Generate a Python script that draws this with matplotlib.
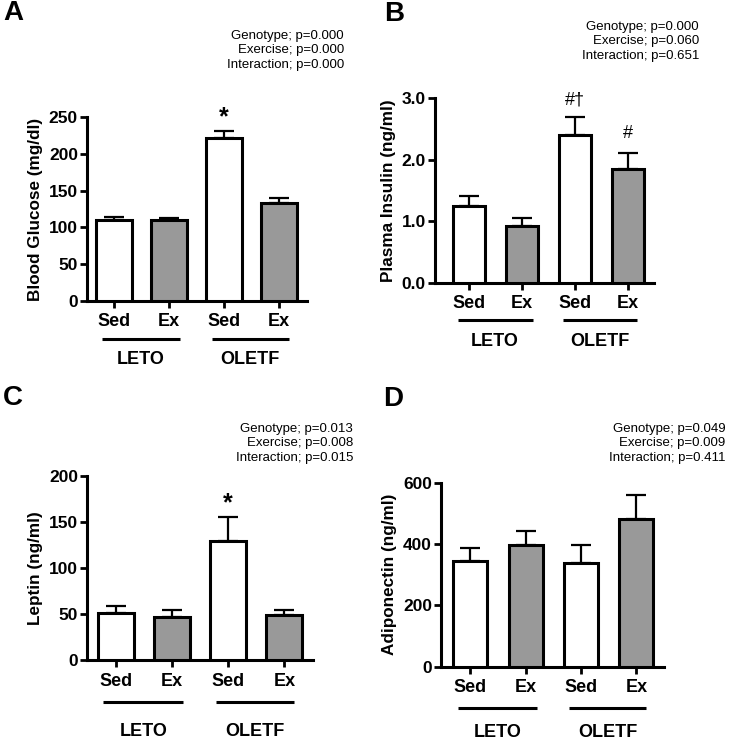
import numpy as np
import matplotlib
matplotlib.use('Agg')
import matplotlib.pyplot as plt
import matplotlib.transforms as mtransforms

plt.rcParams['font.family'] = ['Liberation Sans', 'DejaVu Sans']

W, H = 729, 742

groups = ['Sed', 'Ex', 'Sed', 'Ex']
strains = ['LETO', 'OLETF']
fills = ['white', '#999999', 'white', '#999999']

glucose = [110, 109.5, 221, 132.5]
glucose_err = [4.5, 3.5, 10, 7]

insulin = [1.25, 0.92, 2.40, 1.85]
insulin_err = [0.16, 0.13, 0.29, 0.26]

leptin = [51.5, 47.5, 130, 49]
leptin_err = [7, 7, 25, 5.5]

adipo = [345, 398, 337, 481]
adipo_err = [43, 44, 60, 79]

stats_a = ['Genotype; p=0.000', 'Exercise; p=0.000', 'Interaction; p=0.000']
stats_b = ['Genotype; p=0.000', 'Exercise; p=0.060', 'Interaction; p=0.651']
stats_c = ['Genotype; p=0.013', 'Exercise; p=0.008', 'Interaction; p=0.015']
stats_d = ['Genotype; p=0.049', 'Exercise; p=0.009', 'Interaction; p=0.411']

fig = plt.figure(figsize=(W / 100, H / 100), dpi=100)


def px_axes(left, right, top, bottom):
    return fig.add_axes([left / W, (H - bottom) / H, (right - left) / W, (bottom - top) / H])


def draw_panel(ax, vals, errs, ylim, ticks, ticklabels, ylabel, xlim, width,
               line_dy, grp_dy):
    x = np.arange(4)
    ax.bar(x, vals, width=width, color=fills, edgecolor='black', linewidth=2.2, zorder=3)
    ax.errorbar(x, vals, yerr=[np.zeros(4), errs], fmt='none', ecolor='black',
                elinewidth=1.6, capsize=7.5, capthick=1.6, zorder=2)
    ax.set_xlim(*xlim)
    ax.set_ylim(*ylim)
    ax.set_yticks(ticks)
    ax.set_yticklabels(ticklabels, fontsize=12.5, fontweight='bold')
    ax.set_xticks(x)
    ax.set_xticklabels(groups, fontsize=13, fontweight='bold')
    ax.set_ylabel(ylabel, fontsize=12.3, fontweight='bold', labelpad=4)
    for s in ['top', 'right']:
        ax.spines[s].set_visible(False)
    for s in ['left', 'bottom']:
        ax.spines[s].set_linewidth(2.2)
    ax.tick_params(axis='both', width=2, length=5, pad=1.5)
    ax.tick_params(axis='x', pad=4)
    # group lines and labels below the axis
    trans = mtransforms.blended_transform_factory(ax.transData, ax.transAxes)
    h = ax.get_position().height * H
    for lo, hi, name in [(-0.22, 1.2, strains[0]), (1.78, 3.18, strains[1])]:
        ax.plot([lo, hi], [-line_dy / h] * 2, color='black', lw=2.2,
                transform=trans, clip_on=False, solid_capstyle='butt')
        ax.text((lo + hi) / 2, -grp_dy / h, name, transform=trans, ha='center',
                va='center', fontsize=13, fontweight='bold')


def stats(lines, xr, y0):
    for i, t in enumerate(lines):
        fig.text(xr / W, 1 - (y0 + 14.3 * i) / H, t, ha='right', va='center', fontsize=9.5)


def letter(t, xc, yc):
    fig.text(xc / W, 1 - yc / H, t, ha='center', va='center', fontsize=20, fontweight='bold')


# A
axA = px_axes(87, 307, 117, 301)
draw_panel(axA, glucose, glucose_err, (0, 250), [0, 50, 100, 150, 200, 250],
           ['0', '50', '100', '150', '200', '250'], 'Blood Glucose (mg/dl)',
           (-0.49, 3.51), 0.64, 38, 58)
axA.text(2, 250, '*', ha='center', va='center', fontsize=18, fontweight='bold', clip_on=False)
stats(stats_a, 344, 36)
letter('A', 13, 13)

# B
axB = px_axes(435, 654, 98.3, 282.7)
draw_panel(axB, insulin, insulin_err, (0, 3.0), [0, 1, 2, 3],
           ['0.0', '1.0', '2.0', '3.0'], 'Plasma Insulin (ng/ml)',
           (-0.65, 3.5), 0.61, 37, 59)
axB.text(2, 2.98, '#\u2020', ha='center', va='center', fontsize=13, clip_on=False)
axB.text(3, 2.43, '#', ha='center', va='center', fontsize=13, clip_on=False)
stats(stats_b, 699, 27)
letter('B', 394, 14)

# C
axC = px_axes(87, 313, 476, 660.3)
draw_panel(axC, leptin, leptin_err, (0, 200), [0, 50, 100, 150, 200],
           ['0', '50', '100', '150', '200'], 'Leptin (ng/ml)',
           (-0.51, 3.51), 0.64, 42, 71)
axC.text(2, 170, '*', ha='center', va='center', fontsize=18, fontweight='bold', clip_on=False)
stats(stats_c, 353, 429)
letter('C', 13, 398)

# D
axD = px_axes(441, 664, 482.7, 666.7)
draw_panel(axD, adipo, adipo_err, (0, 600), [0, 200, 400, 600],
           ['0', '200', '400', '600'], 'Adiponectin (ng/ml)',
           (-0.53, 3.5), 0.62, 41, 66)
stats(stats_d, 725.7, 429)
letter('D', 393, 399)

fig.savefig('out.png', dpi=100)
